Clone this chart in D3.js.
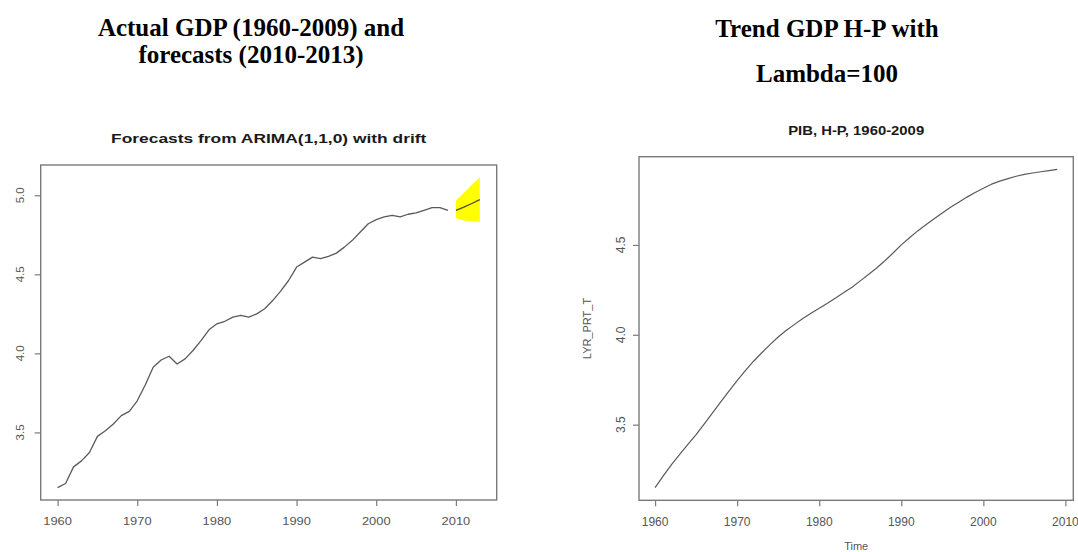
<!DOCTYPE html>
<html>
<head>
<meta charset="utf-8">
<script src="https://cdn.jsdelivr.net/npm/d3@7"></script>
<style>
  html, body { margin: 0; padding: 0; background: #fff; }
  svg { display: block; }
</style>
</head>
<body>
<svg id="chart" width="1078" height="552"></svg>
<script>
// ---------- DATA ----------
const gdpYears = [1960,1961,1962,1963,1964,1965,1966,1967,1968,1969,
                  1970,1971,1972,1973,1974,1975,1976,1977,1978,1979,
                  1980,1981,1982,1983,1984,1985,1986,1987,1988,1989,
                  1990,1991,1992,1993,1994,1995,1996,1997,1998,1999,
                  2000,2001,2002,2003,2004,2005,2006,2007,2008,2009];
const gdpActual = [3.151,3.177,3.282,3.320,3.373,3.475,3.510,3.553,3.606,3.633,
                   3.700,3.800,3.912,3.958,3.982,3.933,3.965,4.018,4.081,4.149,
                   4.187,4.203,4.229,4.241,4.229,4.250,4.282,4.334,4.394,4.461,
                   4.546,4.577,4.609,4.599,4.613,4.634,4.672,4.715,4.768,4.820,
                   4.846,4.863,4.873,4.863,4.880,4.888,4.905,4.922,4.922,4.904];
const fcYears = [2010,2011,2012,2013];
const fcMean  = [4.905,4.925,4.948,4.972];
const fcLower = [4.855,4.840,4.835,4.833];
const fcUpper = [4.965,5.015,5.065,5.113];
const hpTrend = [3.150,3.215,3.278,3.335,3.390,3.445,3.505,3.565,3.627,3.687,
                 3.745,3.800,3.853,3.900,3.945,3.988,4.025,4.058,4.090,4.120,
                 4.148,4.175,4.205,4.235,4.265,4.300,4.335,4.372,4.412,4.455,
                 4.500,4.540,4.578,4.612,4.645,4.678,4.710,4.738,4.766,4.792,
                 4.815,4.838,4.855,4.869,4.882,4.892,4.900,4.907,4.913,4.920];
const xTicks = [1960,1970,1980,1990,2000,2010];
const yTicks = [3.5,4.0,4.5,5.0];
const headerLeft = ["Actual GDP (1960-2009) and", "forecasts (2010-2013)"];
const headerRight = ["Trend GDP H-P with", "Lambda=100"];
const titleLeft = "Forecasts from ARIMA(1,1,0) with drift";
const titleRight = "PIB, H-P, 1960-2009";
const yLabelRight = "LYR_PRT_T";
const xLabelRight = "Time";

// ---------- DRAW ----------
const svg = d3.select("#chart");
const AXIS = "#7a7a7a", TXT = "#555", LINE = "#5a5a5a";
const SANS = "Liberation Sans, Arial, sans-serif";
const SERIF = "Liberation Serif, Times New Roman, serif";

function pad(ext) { const r = ext[1]-ext[0]; return [ext[0]-0.04*r, ext[1]+0.04*r]; }

// header texts (serif, bold)
function header(lines, cx, baselines) {
  lines.forEach((t, i) => {
    svg.append("text").attr("x", cx).attr("y", baselines[i])
      .attr("text-anchor", "middle").attr("font-family", SERIF)
      .attr("font-weight", "bold").attr("font-size", 25).attr("fill", "#000")
      .text(t);
  });
}
header(headerLeft, 251, [36, 63]);
header(headerRight, 827, [37, 82]);

function stext(g, x, y, str, opts) {
  return g.append("text")
    .attr("transform", `translate(${x},${y}) ${opts.rot ? "rotate(-90)" : ""} scale(${opts.sx||1},1)`)
    .attr("text-anchor", "middle").attr("font-family", SANS)
    .attr("font-size", opts.size).attr("fill", opts.fill || TXT)
    .attr("font-weight", opts.bold ? "bold" : "normal")
    .text(str);
}

function panel(cfg) {
  const g = svg.append("g");
  const x = d3.scaleLinear().domain(cfg.xdom).range([cfg.left, cfg.right]);
  const y = d3.scaleLinear().domain(cfg.ydom).range([cfg.bottom, cfg.top]);
  const xt = cfg.xticks.filter(v => v >= cfg.xdom[0] && v <= cfg.xdom[1]);
  const yt = yTicks.filter(v => v >= cfg.ydom[0] && v <= cfg.ydom[1]);

  const xa = g.append("g").attr("transform", `translate(0,${cfg.bottom})`)
    .call(d3.axisBottom(x).tickValues(xt).tickSize(6).tickFormat(""));
  xa.select(".domain").remove();
  xa.selectAll("line").attr("stroke", AXIS).attr("stroke-width", 1.2);
  xt.forEach(v => stext(g, x(v), cfg.xLabY, String(v), {size: cfg.tickSize, sx: cfg.tickSx}));

  const ya = g.append("g").attr("transform", `translate(${cfg.left},0)`)
    .call(d3.axisLeft(y).tickValues(yt).tickSize(6).tickFormat(""));
  ya.select(".domain").remove();
  ya.selectAll("line").attr("stroke", AXIS).attr("stroke-width", 1.2);
  yt.forEach(v => stext(g, cfg.yLabX, y(v), d3.format(".1f")(v), {size: cfg.tickSize, rot: true}));

  g.append("rect").attr("x", cfg.left).attr("y", cfg.top)
    .attr("width", cfg.right - cfg.left).attr("height", cfg.bottom - cfg.top)
    .attr("fill", "none").attr("stroke", AXIS).attr("stroke-width", 1.4);

  stext(g, (cfg.left + cfg.right) / 2, cfg.titleY, cfg.title, {size: cfg.titleSize, sx: cfg.titleSx, bold: true, fill: "#1a1a1a"});
  return {g, x, y};
}

// Left panel
const left = panel({
  left: 40.7, right: 496.7, top: 165, bottom: 500,
  xdom: pad([gdpYears[0], fcYears[fcYears.length-1]]),
  ydom: pad([d3.min(gdpActual.concat(fcLower)), d3.max(gdpActual.concat(fcUpper))]),
  xticks: xTicks, xLabY: 525, yLabX: 24, tickSize: 11.5, tickSx: 1.12,
  title: titleLeft, titleY: 143, titleSize: 12, titleSx: 1.45
});
const band = d3.area()
  .x((d, i) => left.x(fcYears[i]))
  .y0((d, i) => left.y(fcLower[i]))
  .y1((d, i) => left.y(fcUpper[i]));
left.g.append("path").datum(fcYears).attr("d", band).attr("fill", "#ffff00").attr("stroke", "none");
const lineL = d3.line().x((d, i) => left.x(gdpYears[i])).y(d => left.y(d));
left.g.append("path").datum(gdpActual).attr("d", lineL)
  .attr("fill", "none").attr("stroke", LINE).attr("stroke-width", 1.3).attr("stroke-linejoin", "round");
const lineF = d3.line().x((d, i) => left.x(fcYears[i])).y(d => left.y(d));
left.g.append("path").datum(fcMean).attr("d", lineF)
  .attr("fill", "none").attr("stroke", "#4d4d2a").attr("stroke-width", 1.3);

// Right panel
const right = panel({
  left: 639, right: 1073.3, top: 156.7, bottom: 500.3,
  xdom: pad(d3.extent(gdpYears)),
  ydom: pad(d3.extent(hpTrend)),
  xticks: xTicks, xLabY: 526, yLabX: 625, tickSize: 12, tickSx: 1.0,
  title: titleRight, titleY: 135, titleSize: 12.5, titleSx: 1.19
});
const lineR = d3.line().x((d, i) => right.x(gdpYears[i])).y(d => right.y(d));
right.g.append("path").datum(hpTrend).attr("d", lineR)
  .attr("fill", "none").attr("stroke", LINE).attr("stroke-width", 1.2).attr("stroke-linejoin", "round");
stext(right.g, 591, 328.5, yLabelRight, {size: 11, rot: true});
stext(right.g, (639 + 1073.3) / 2, 550, xLabelRight, {size: 11});
</script>
</body>
</html>
